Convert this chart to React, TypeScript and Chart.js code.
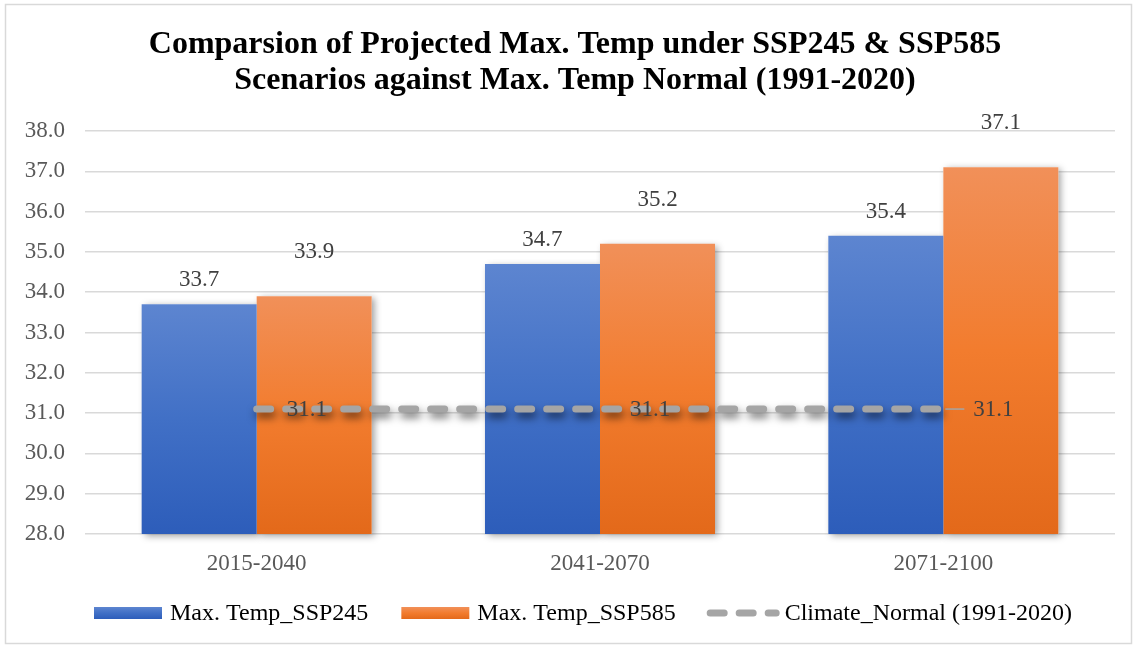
import React, { useEffect, useRef } from 'react';
import { Chart, registerables } from 'chart.js';

Chart.register(...registerables);

// ---- data ----
const categories = ['2015-2040', '2041-2070', '2071-2100'];
const ssp245 = [33.7, 34.7, 35.4];
const ssp585 = [33.9, 35.2, 37.1];
const climateNormal = [31.1, 31.1, 31.1];
const seriesNames = ['Max. Temp_SSP245', 'Max. Temp_SSP585', 'Climate_Normal (1991-2020)'];
const titleLines = [
  'Comparsion of Projected Max. Temp under SSP245 & SSP585',
  'Scenarios against Max. Temp Normal (1991-2020)',
];
const yMin = 28;
const yMax = 38;
const yStep = 1;

// ---- styling ----
const SERIF = '"Liberation Serif", "Times New Roman", serif';
const BLUE_STOPS = ['#5d85d0', '#4170c6', '#2d5dba'];
const ORANGE_STOPS = ['#f19059', '#f27c2e', '#e3691a'];
const LINE_GRAY = '#a5a5a5';
const GRID_GRAY = '#d9d9d9';
const TICK_COLOR = '#595959';
const LABEL_COLOR = '#404040';

function verticalGradient(ctx: CanvasRenderingContext2D, top: number, bottom: number, stops: string[]) {
  const g = ctx.createLinearGradient(0, top, 0, bottom);
  stops.forEach((c, i) => g.addColorStop(i / (stops.length - 1), c));
  return g;
}

function barFill(stops: string[]) {
  return (c: any) => {
    const chart = c.chart;
    const y = chart.scales?.y;
    if (c.type !== 'data' || !y || !chart.chartArea) return stops[1];
    const top = y.getPixelForValue(c.raw);
    const base = y.getPixelForValue(y.min);
    if (!isFinite(top) || !isFinite(base) || base <= top) return stops[1];
    return verticalGradient(chart.ctx, top, base, stops);
  };
}

// outer frame of the chart; also nudges the title block so it centres over the frame
const framePlugin = {
  id: 'frame',
  afterLayout(chart: any) {
    const tb = chart.titleBlock;
    if (tb) tb.left += 30;
  },
  beforeDraw(chart: any) {
    const { ctx, width, height } = chart;
    ctx.save();
    ctx.fillStyle = '#ffffff';
    ctx.fillRect(0, 0, width, height);
    ctx.strokeStyle = GRID_GRAY;
    ctx.lineWidth = 1.5;
    ctx.strokeRect(5.5, 4.5, width - 11, height - 9);
    ctx.restore();
  },
};

// soft shadows under the bars and the dashed line
const shadowPlugin = {
  id: 'shadows',
  beforeDatasetsDraw(chart: any) {
    const ctx = chart.ctx;
    const area = chart.chartArea;
    ctx.save();
    ctx.shadowColor = 'rgba(0,0,0,0.38)';
    ctx.shadowBlur = 7;
    ctx.shadowOffsetX = 3;
    ctx.shadowOffsetY = 2;
    ctx.fillStyle = '#ffffff';
    chart.data.datasets.forEach((_: any, i: number) => {
      const meta = chart.getDatasetMeta(i);
      if (meta.type !== 'bar') return;
      meta.data.forEach((el: any) => {
        const { x, y, base, width } = el.getProps(['x', 'y', 'base', 'width'], true);
        const bottom = Math.min(base, area.bottom);
        ctx.fillRect(x - width / 2, y, width, bottom - y);
      });
    });
    ctx.restore();
  },
  beforeDatasetDraw(chart: any, args: any) {
    if (args.meta.type !== 'line') return;
    const ctx = chart.ctx;
    ctx.save();
    ctx.shadowColor = 'rgba(0,0,0,0.6)';
    ctx.shadowBlur = 8;
    ctx.shadowOffsetX = 2;
    ctx.shadowOffsetY = 5;
  },
  afterDatasetDraw(chart: any, args: any) {
    if (args.meta.type !== 'line') return;
    chart.ctx.restore();
  },
};

// value labels above bars and beside line points
const valueLabelPlugin = {
  id: 'valueLabels',
  afterDatasetsDraw(chart: any) {
    const ctx = chart.ctx;
    ctx.save();
    ctx.font = `23px ${SERIF}`;
    ctx.fillStyle = LABEL_COLOR;
    ctx.textBaseline = 'middle';
    chart.data.datasets.forEach((ds: any, i: number) => {
      const meta = chart.getDatasetMeta(i);
      if (meta.type === 'bar') {
        ctx.textAlign = 'center';
        meta.data.forEach((el: any, j: number) => {
          ctx.fillText(Number(ds.data[j]).toFixed(1), el.x, el.y - ds.labelLift);
        });
      } else {
        ctx.textAlign = 'left';
        meta.data.forEach((el: any, j: number) => {
          if (j === meta.data.length - 1) {
            ctx.save();
            ctx.strokeStyle = LINE_GRAY;
            ctx.lineWidth = 1.5;
            ctx.beginPath();
            ctx.moveTo(el.x + 2, el.y);
            ctx.lineTo(el.x + 21, el.y);
            ctx.stroke();
            ctx.restore();
          }
          ctx.fillText(Number(ds.data[j]).toFixed(1), el.x + 30, el.y + 1);
        });
      }
    });
    ctx.restore();
  },
};

// legend row along the bottom
const legendPlugin = {
  id: 'bottomLegend',
  afterDraw(chart: any) {
    const ctx = chart.ctx;
    const cy = 613;
    ctx.save();
    ctx.font = `24px ${SERIF}`;
    ctx.textBaseline = 'middle';
    ctx.textAlign = 'left';
    let x = 94;
    const boxW = 68;
    const boxH = 12;
    [BLUE_STOPS, ORANGE_STOPS].forEach((stops, i) => {
      ctx.fillStyle = verticalGradient(ctx, cy - boxH / 2, cy + boxH / 2, stops);
      ctx.fillRect(x, cy - boxH / 2, boxW, boxH);
      x += boxW + 8;
      ctx.fillStyle = '#000000';
      ctx.fillText(seriesNames[i], x, cy + 1);
      x += ctx.measureText(seriesNames[i]).width + (i === 0 ? 33 : 0);
    });
    // dashed sample for the climate normal line
    ctx.save();
    ctx.strokeStyle = LINE_GRAY;
    ctx.lineWidth = 7;
    ctx.lineCap = 'round';
    ctx.setLineDash([14, 15]);
    ctx.beginPath();
    ctx.moveTo(x + 34.5, cy);
    ctx.lineTo(x + 100.5, cy);
    ctx.stroke();
    ctx.restore();
    ctx.fillStyle = '#000000';
    ctx.fillText(seriesNames[2], x + 109, cy + 1);
    ctx.restore();
  },
};

export default function App() {
  const canvasRef = useRef<HTMLCanvasElement | null>(null);

  useEffect(() => {
    const canvas = canvasRef.current;
    if (!canvas) return;
    const chart = new Chart(canvas, {
      type: 'bar',
      data: {
        labels: categories,
        datasets: [
          {
            type: 'line',
            label: seriesNames[2],
            data: climateNormal,
            borderColor: LINE_GRAY,
            borderWidth: 7,
            borderDash: [14, 15],
            borderCapStyle: 'round',
            pointRadius: 0,
            pointHoverRadius: 0,
            fill: false,
            order: 0,
          } as any,
          {
            type: 'bar',
            label: seriesNames[0],
            data: ssp245,
            backgroundColor: barFill(BLUE_STOPS),
            borderWidth: 0,
            categoryPercentage: 0.67,
            barPercentage: 1,
            order: 1,
            labelLift: 24,
          } as any,
          {
            type: 'bar',
            label: seriesNames[1],
            data: ssp585,
            backgroundColor: barFill(ORANGE_STOPS),
            borderWidth: 0,
            categoryPercentage: 0.67,
            barPercentage: 1,
            order: 2,
            labelLift: 44,
          } as any,
        ],
      },
      options: {
        responsive: false,
        animation: false,
        events: [],
        layout: { padding: { top: 4, left: 5, right: 22, bottom: 69 } },
        plugins: {
          legend: { display: false },
          tooltip: { enabled: false },
          title: {
            display: true,
            text: titleLines,
            color: '#000000',
            font: { family: SERIF, size: 32, weight: 'bold', lineHeight: 1.15 },
            padding: { top: 22, bottom: 31.4 },
          },
        },
        scales: {
          x: {
            grid: { display: false },
            border: { display: false },
            ticks: { color: TICK_COLOR, font: { family: SERIF, size: 23 }, padding: 8 },
            afterFit: (s: any) => { s.height = 45; },
          },
          y: {
            min: yMin,
            max: yMax,
            grid: { color: GRID_GRAY, lineWidth: 1.5, drawTicks: false },
            border: { display: false },
            ticks: {
              stepSize: yStep,
              color: TICK_COLOR,
              font: { family: SERIF, size: 23 },
              padding: 20,
              callback: (v: any) => Number(v).toFixed(1),
            },
            afterFit: (s: any) => { s.width = 80; },
          },
        },
      },
      plugins: [framePlugin, shadowPlugin, valueLabelPlugin, legendPlugin],
    });
    return () => chart.destroy();
  }, []);

  return (
    <div style={{ position: 'fixed', left: 0, top: 0, width: 1137, height: 648, background: '#fff' }}>
      <canvas ref={canvasRef} width={1137} height={648} />
    </div>
  );
}
